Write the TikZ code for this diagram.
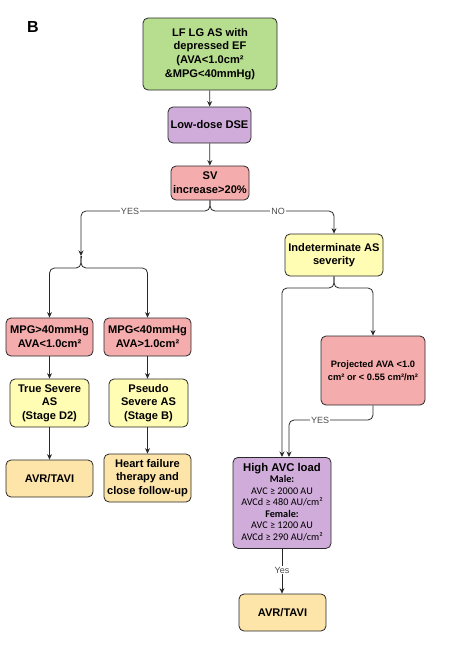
\documentclass[tikz,border=0pt]{standalone}
\usepackage{fontspec}
\setmainfont{Liberation Sans}
\newfontfamily\calib{Carlito}
\usetikzlibrary{arrows.meta}
\definecolor{cgreen}{RGB}{183,221,143}
\definecolor{cpurple}{RGB}{208,172,218}
\definecolor{cpink}{RGB}{245,172,172}
\definecolor{cyellow}{RGB}{255,252,180}
\definecolor{cpeach}{RGB}{253,228,168}
\definecolor{cline}{RGB}{40,40,40}
\tikzset{
  box/.style={draw=cline, line width=0.8pt, rounded corners=5pt, align=center,
    font=\fontsize{11.1}{13.7}\selectfont\bfseries, inner sep=0.5pt},
  arr/.style={draw=cline, line width=0.8pt, -{Stealth[length=5.5pt,width=5pt]}},
  ln/.style={draw=cline, line width=0.8pt},
  lab/.style={fill=white, inner sep=1pt, font=\fontsize{9}{10}\selectfont, text=black!70}
}
\begin{document}
\begin{tikzpicture}[x=1pt,y=-1pt]
\useasboundingbox (0,0) rectangle (461,645);
\node[font=\fontsize{16}{16}\selectfont\bfseries] (lbl) at (33,27) {B};

\node[box, fill=cgreen, minimum width=134pt, minimum height=72pt] (lf) at (210,54)
  {LF LG AS with\\depressed EF\\(AVA<1.0cm²\\\&MPG<40mmHg)};
\node[box, fill=cpurple, minimum width=83pt, minimum height=36pt] (dse) at (209.5,125) {Low-dose DSE};
\node[box, fill=cpink, minimum width=78pt, minimum height=34pt] (sv) at (210,183) {SV\\increase>20\%};
\node[box, fill=cyellow, minimum width=98pt, minimum height=42pt] (ind) at (334,255) {Indeterminate AS\\severity};
\node[box, fill=cpink, minimum width=87pt, minimum height=38pt] (m1) at (49.5,337) {MPG>40mmHg\\AVA<1.0cm²};
\node[box, fill=cpink, minimum width=87pt, minimum height=38pt] (m2) at (147.5,337) {MPG<40mmHg\\AVA>1.0cm²};
\node[box, fill=cyellow, minimum width=79pt, minimum height=48pt] (ts) at (49.5,403) {True Severe\\AS\\(Stage D2)};
\node[box, fill=cyellow, minimum width=79pt, minimum height=48pt] (ps) at (148.5,403) {Pseudo\\Severe AS\\(Stage B)};
\node[box, fill=cpeach, minimum width=87pt, minimum height=37pt] (a1) at (49.5,478.5) {AVR/TAVI};
\node[box, fill=cpeach, minimum width=87pt, minimum height=48pt] (hf) at (147.5,478) {Heart failure\\therapy and\\close follow-up};
\node[box, fill=cpink, minimum width=104pt, minimum height=69pt,
  font=\fontsize{9.3}{13}\selectfont\bfseries] (pj) at (373,370.5) {Projected AVA <1.0\\cm² or < 0.55 cm²/m²};
\node[box, fill=cpurple, minimum width=98pt, minimum height=91pt, anchor=north] (hi) at (282,457)
  {\begin{minipage}[t]{96pt}\centering\vspace{-1pt}
   {\fontsize{11.3}{12}\selectfont\bfseries High AVC load}\\[-1pt]
   {\calib\fontsize{10.2}{11.6}\selectfont\mdseries
   \textbf{Male:}\\
   AVC ≥ 2000 AU\\
   AVCd ≥ 480 AU/cm²\\
   \textbf{Female:}\\
   AVC ≥ 1200 AU\\
   AVCd ≥ 290 AU/cm²\par}\end{minipage}};
\node[box, fill=cpeach, minimum width=87pt, minimum height=37pt] (a2) at (282.5,612.5) {AVR/TAVI};

% connectors
\draw[arr] (lf) -- (dse);
\draw[arr] (dse) -- (sv);
\coordinate (ya) at (81,256);
\draw[arr, rounded corners=5pt] (sv.south) |- (81,211) -- (ya);
\draw[arr, rounded corners=5pt] (sv.south) |- (334,211) -- (ind.north);
\node[lab] (yes1) at (130,211) {YES};
\node[lab] (no1) at (278,211) {NO};
\draw[ln] (ya) -- ++(0,2);
\draw[arr, rounded corners=5pt] (ya) |- (49.5,268) -- (m1.north);
\draw[arr, rounded corners=5pt] (ya) |- (147.5,268) -- (m2.north);
\draw[arr] (m1) -- (ts);
\draw[arr] (m2) -- (m2 |- ps.north);
\draw[arr] (ts) -- (ts |- a1.north);
\draw[arr] (m2 |- ps.south) -- (hf);
\draw[arr, rounded corners=5pt] (ind.south) |- (282,288) -- (hi.north);
\draw[arr, rounded corners=5pt] (ind.south) |- (373,288) -- (pj.north);
\draw[arr, rounded corners=5pt] (pj.south) |- (289,420) -- ([xshift=7pt]hi.north);
\node[lab] (yes2) at (320,420) {YES};
\draw[arr] (hi.south) -- (a2.north -| hi.south);
\node[lab] (yes3) at (282,570) {Yes};
\end{tikzpicture}
\end{document}
